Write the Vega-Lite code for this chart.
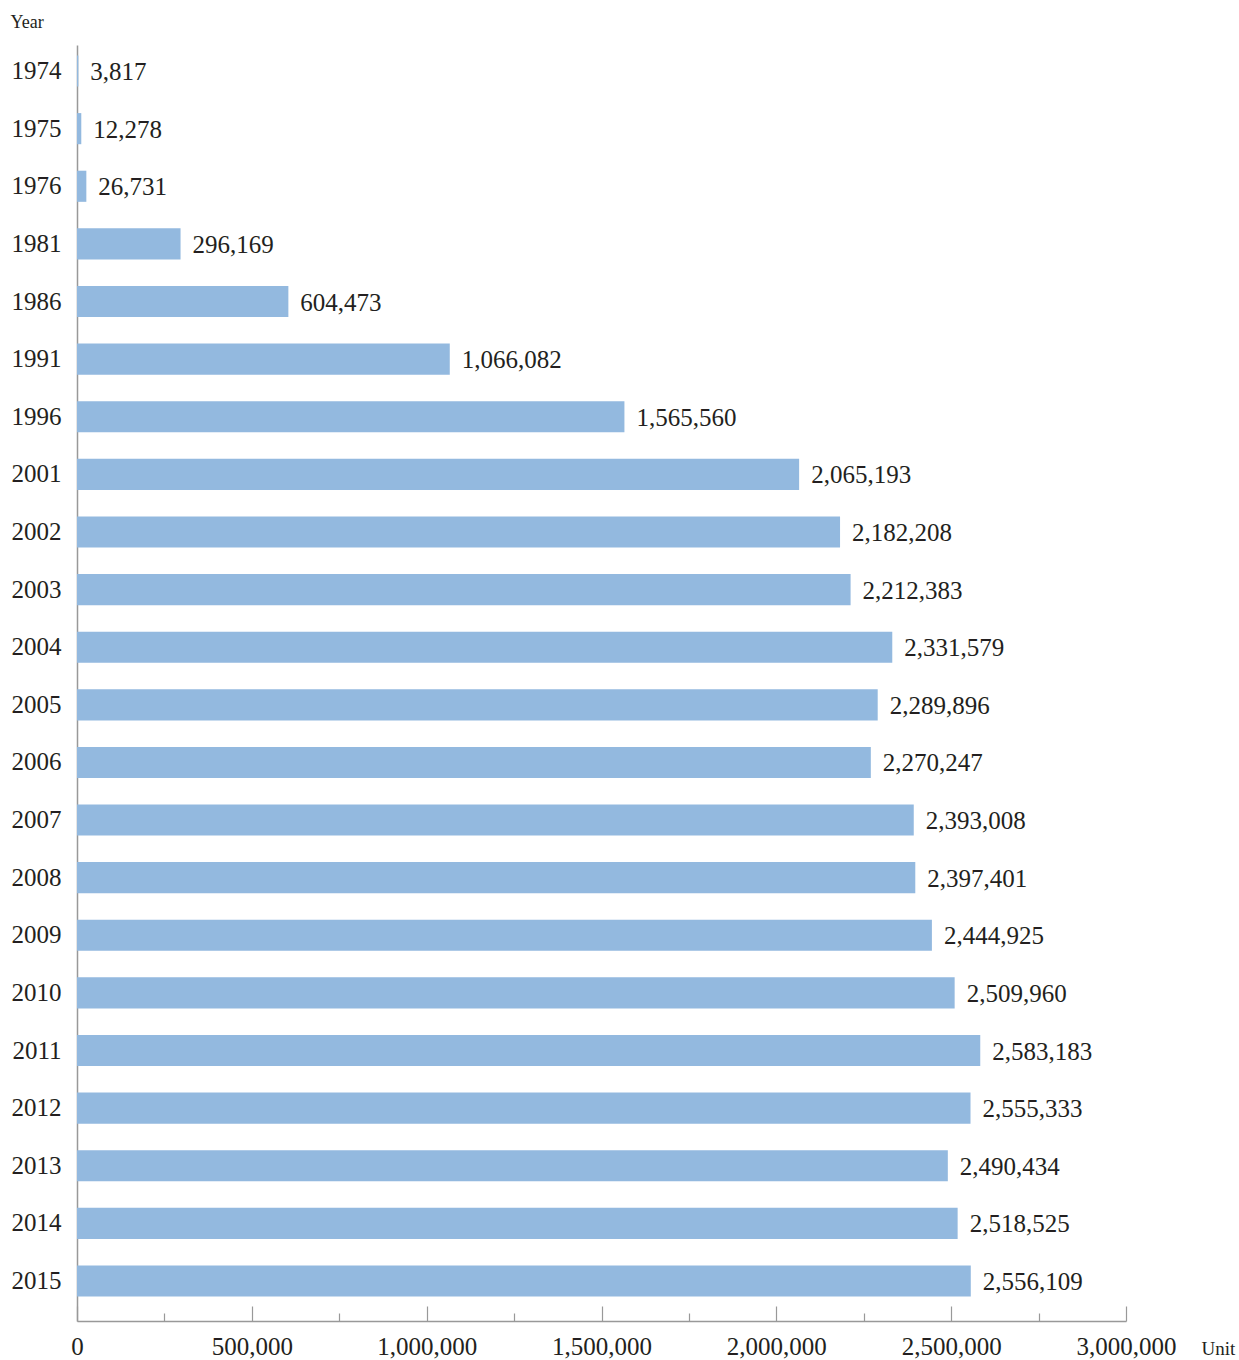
{
  "$schema": "https://vega.github.io/schema/vega-lite/v6.json",
  "autosize": "none",
  "width": 1049,
  "height": 1276,
  "padding": {"left": 77, "top": 45, "right": 113, "bottom": 39},
  "background": "white",
  "config": {
    "view": {"stroke": null},
    "font": "Liberation Serif"
  },
  "data": {
    "values": [
      {"year": "1974", "value": 3817},
      {"year": "1975", "value": 12278},
      {"year": "1976", "value": 26731},
      {"year": "1981", "value": 296169},
      {"year": "1986", "value": 604473},
      {"year": "1991", "value": 1066082},
      {"year": "1996", "value": 1565560},
      {"year": "2001", "value": 2065193},
      {"year": "2002", "value": 2182208},
      {"year": "2003", "value": 2212383},
      {"year": "2004", "value": 2331579},
      {"year": "2005", "value": 2289896},
      {"year": "2006", "value": 2270247},
      {"year": "2007", "value": 2393008},
      {"year": "2008", "value": 2397401},
      {"year": "2009", "value": 2444925},
      {"year": "2010", "value": 2509960},
      {"year": "2011", "value": 2583183},
      {"year": "2012", "value": 2555333},
      {"year": "2013", "value": 2490434},
      {"year": "2014", "value": 2518525},
      {"year": "2015", "value": 2556109}
    ]
  },
  "encoding": {
    "y": {
      "field": "year",
      "type": "ordinal",
      "sort": null,
      "scale": {"paddingInner": 0.46, "paddingOuter": 0.303, "align": 0.3},
      "axis": {
        "title": "Year",
        "titleAngle": 0,
        "titleAlign": "left",
        "titleBaseline": "alphabetic",
        "titleX": -67,
        "titleY": -18,
        "titleFont": "Liberation Serif",
        "titleFontSize": 18,
        "titleFontWeight": "normal",
        "titleColor": "#231f20",
        "ticks": false,
        "labelPadding": 16,
        "labelFont": "Liberation Serif",
        "labelFontSize": 25,
        "labelColor": "#231f20",
        "domainColor": "#999999",
        "domainWidth": 1.5,
        "grid": false
      }
    },
    "x": {
      "field": "value",
      "type": "quantitative",
      "scale": {"domain": [0, 3000000], "nice": false},
      "axis": {
        "values": [0, 250000, 500000, 750000, 1000000, 1250000, 1500000, 1750000, 2000000, 2250000, 2500000, 2750000, 3000000],
        "labelExpr": "datum.value % 500000 === 0 ? format(datum.value, ',') : ''",
        "title": "Unit",
        "titleX": 1124,
        "titleY": 33,
        "titleAlign": "left",
        "titleBaseline": "alphabetic",
        "titleFont": "Liberation Serif",
        "titleFontSize": 19,
        "titleFontWeight": "normal",
        "titleColor": "#231f20",
        "tickSize": {"condition": {"test": "datum.value % 500000 === 0", "value": -15}, "value": -8},
        "tickColor": "#999999",
        "tickWidth": 1.2,
        "labelPadding": 28,
        "labelFlush": false,
        "labelOverlap": false,
        "labelFont": "Liberation Serif",
        "labelFontSize": 25,
        "labelColor": "#231f20",
        "domainColor": "#999999",
        "domainWidth": 1.5,
        "grid": false
      }
    }
  },
  "layer": [
    {"mark": {"type": "bar", "color": "#93b9df"}},
    {
      "mark": {"type": "text", "align": "left", "baseline": "middle", "dx": 12, "dy": 1, "fontSize": 25, "font": "Liberation Serif", "color": "#231f20"},
      "encoding": {"text": {"field": "value", "type": "quantitative", "format": ","}}
    }
  ]
}
